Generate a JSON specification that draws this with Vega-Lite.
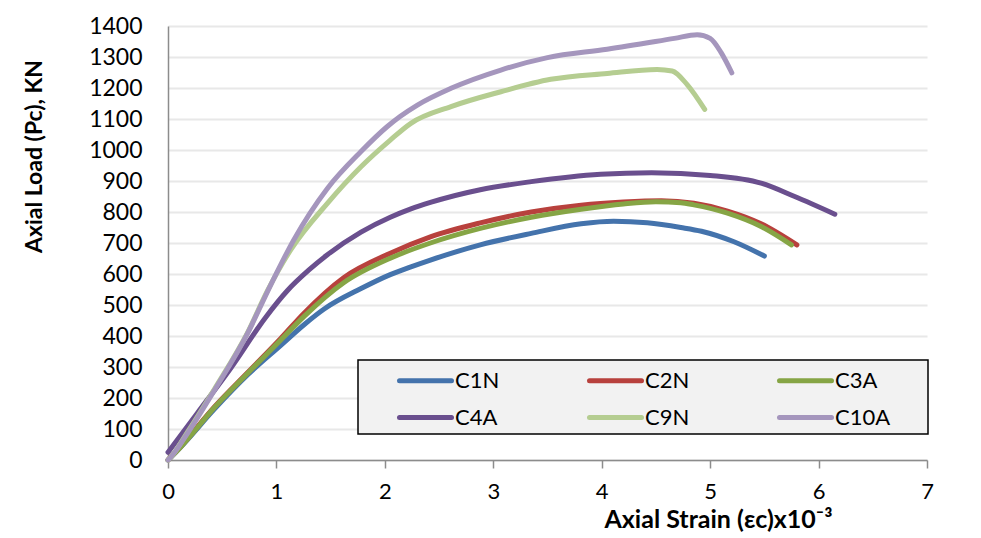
{
  "$schema": "https://vega.github.io/schema/vega-lite/v6.json",
  "width": 759,
  "height": 434,
  "autosize": {"type": "none"},
  "padding": {"left": 168, "top": 26, "right": 54, "bottom": 78},
  "background": "white",
  "config": {"view": {"stroke": null}, "font": "Lato"},
  "datasets": {
    "curves": [
      {"specimen": "C1N", "strain": 0, "load": 0},
      {"specimen": "C1N", "strain": 0.12, "load": 43},
      {"specimen": "C1N", "strain": 0.43, "load": 165},
      {"specimen": "C1N", "strain": 0.735, "load": 275},
      {"specimen": "C1N", "strain": 1.04, "load": 370},
      {"specimen": "C1N", "strain": 1.26, "load": 438},
      {"specimen": "C1N", "strain": 1.44, "load": 487},
      {"specimen": "C1N", "strain": 1.78, "load": 553},
      {"specimen": "C1N", "strain": 2.05, "load": 598},
      {"specimen": "C1N", "strain": 2.24, "load": 623},
      {"specimen": "C1N", "strain": 2.42, "load": 645},
      {"specimen": "C1N", "strain": 2.88, "load": 694},
      {"specimen": "C1N", "strain": 3.35, "load": 731},
      {"specimen": "C1N", "strain": 3.81, "load": 762},
      {"specimen": "C1N", "strain": 4.11, "load": 770},
      {"specimen": "C1N", "strain": 4.42, "load": 765},
      {"specimen": "C1N", "strain": 4.73, "load": 750},
      {"specimen": "C1N", "strain": 4.92, "load": 738},
      {"specimen": "C1N", "strain": 5.22, "load": 704},
      {"specimen": "C1N", "strain": 5.5, "load": 658},

      {"specimen": "C2N", "strain": 0, "load": 0},
      {"specimen": "C2N", "strain": 0.12, "load": 45},
      {"specimen": "C2N", "strain": 0.43, "load": 172},
      {"specimen": "C2N", "strain": 0.735, "load": 282},
      {"specimen": "C2N", "strain": 1.04, "load": 392},
      {"specimen": "C2N", "strain": 1.25, "load": 472},
      {"specimen": "C2N", "strain": 1.62, "load": 588},
      {"specimen": "C2N", "strain": 2.05, "load": 667},
      {"specimen": "C2N", "strain": 2.42, "load": 720},
      {"specimen": "C2N", "strain": 2.88, "load": 765},
      {"specimen": "C2N", "strain": 3.35, "load": 800},
      {"specimen": "C2N", "strain": 3.81, "load": 822},
      {"specimen": "C2N", "strain": 4.2, "load": 832},
      {"specimen": "C2N", "strain": 4.55, "load": 836},
      {"specimen": "C2N", "strain": 4.85, "load": 828},
      {"specimen": "C2N", "strain": 5.16, "load": 803},
      {"specimen": "C2N", "strain": 5.47, "load": 762},
      {"specimen": "C2N", "strain": 5.8, "load": 694},

      {"specimen": "C3A", "strain": 0, "load": 0},
      {"specimen": "C3A", "strain": 0.12, "load": 43},
      {"specimen": "C3A", "strain": 0.43, "load": 170},
      {"specimen": "C3A", "strain": 0.735, "load": 280},
      {"specimen": "C3A", "strain": 1.04, "load": 387},
      {"specimen": "C3A", "strain": 1.26, "load": 465},
      {"specimen": "C3A", "strain": 1.62, "load": 572},
      {"specimen": "C3A", "strain": 2.05, "load": 651},
      {"specimen": "C3A", "strain": 2.42, "load": 700},
      {"specimen": "C3A", "strain": 2.88, "load": 747},
      {"specimen": "C3A", "strain": 3.35, "load": 783},
      {"specimen": "C3A", "strain": 3.81, "load": 809},
      {"specimen": "C3A", "strain": 4.2, "load": 826},
      {"specimen": "C3A", "strain": 4.5, "load": 833},
      {"specimen": "C3A", "strain": 4.73, "load": 830},
      {"specimen": "C3A", "strain": 4.85, "load": 823},
      {"specimen": "C3A", "strain": 5.16, "load": 796},
      {"specimen": "C3A", "strain": 5.47, "load": 753},
      {"specimen": "C3A", "strain": 5.75, "load": 694},

      {"specimen": "C4A", "strain": 0, "load": 25},
      {"specimen": "C4A", "strain": 0.27, "load": 151},
      {"specimen": "C4A", "strain": 0.58, "load": 297},
      {"specimen": "C4A", "strain": 0.9, "load": 460},
      {"specimen": "C4A", "strain": 1.1, "load": 546},
      {"specimen": "C4A", "strain": 1.3, "load": 613},
      {"specimen": "C4A", "strain": 1.47, "load": 662},
      {"specimen": "C4A", "strain": 1.78, "load": 735},
      {"specimen": "C4A", "strain": 2.05, "load": 783},
      {"specimen": "C4A", "strain": 2.24, "load": 810},
      {"specimen": "C4A", "strain": 2.42, "load": 831},
      {"specimen": "C4A", "strain": 2.88, "load": 872},
      {"specimen": "C4A", "strain": 3.35, "load": 898},
      {"specimen": "C4A", "strain": 3.99, "load": 922},
      {"specimen": "C4A", "strain": 4.46, "load": 927},
      {"specimen": "C4A", "strain": 5.0, "load": 918},
      {"specimen": "C4A", "strain": 5.47, "load": 893},
      {"specimen": "C4A", "strain": 5.78, "load": 850},
      {"specimen": "C4A", "strain": 6.15, "load": 793},

      {"specimen": "C9N", "strain": 0, "load": 0},
      {"specimen": "C9N", "strain": 0.03, "load": 11},
      {"specimen": "C9N", "strain": 0.18, "load": 90},
      {"specimen": "C9N", "strain": 0.43, "load": 230},
      {"specimen": "C9N", "strain": 0.735, "load": 412},
      {"specimen": "C9N", "strain": 0.92, "load": 548},
      {"specimen": "C9N", "strain": 1.13, "load": 677},
      {"specimen": "C9N", "strain": 1.47, "load": 828},
      {"specimen": "C9N", "strain": 1.78, "load": 946},
      {"specimen": "C9N", "strain": 2.05, "load": 1032},
      {"specimen": "C9N", "strain": 2.24, "load": 1086},
      {"specimen": "C9N", "strain": 2.61, "load": 1140},
      {"specimen": "C9N", "strain": 3.07, "load": 1188},
      {"specimen": "C9N", "strain": 3.53, "load": 1228},
      {"specimen": "C9N", "strain": 4.05, "load": 1247},
      {"specimen": "C9N", "strain": 4.51, "load": 1260},
      {"specimen": "C9N", "strain": 4.65, "load": 1255},
      {"specimen": "C9N", "strain": 4.79, "load": 1210},
      {"specimen": "C9N", "strain": 4.95, "load": 1131},

      {"specimen": "C10A", "strain": 0, "load": 0},
      {"specimen": "C10A", "strain": 0.03, "load": 11},
      {"specimen": "C10A", "strain": 0.18, "load": 86},
      {"specimen": "C10A", "strain": 0.43, "load": 226},
      {"specimen": "C10A", "strain": 0.735, "load": 409},
      {"specimen": "C10A", "strain": 0.92, "load": 545},
      {"specimen": "C10A", "strain": 1.16, "load": 710},
      {"specimen": "C10A", "strain": 1.47, "load": 876},
      {"specimen": "C10A", "strain": 1.78, "load": 995},
      {"specimen": "C10A", "strain": 2.02, "load": 1075},
      {"specimen": "C10A", "strain": 2.14, "load": 1108},
      {"specimen": "C10A", "strain": 2.3, "load": 1145},
      {"specimen": "C10A", "strain": 2.61, "load": 1199},
      {"specimen": "C10A", "strain": 3.07, "load": 1258},
      {"specimen": "C10A", "strain": 3.5, "load": 1298},
      {"specimen": "C10A", "strain": 4.05, "load": 1325},
      {"specimen": "C10A", "strain": 4.67, "load": 1360},
      {"specimen": "C10A", "strain": 4.88, "load": 1372},
      {"specimen": "C10A", "strain": 5.0, "load": 1360},
      {"specimen": "C10A", "strain": 5.1, "load": 1315},
      {"specimen": "C10A", "strain": 5.2, "load": 1249}
    ]
  },
  "data": {"name": "curves"},
  "mark": {"type": "line", "interpolate": "monotone", "strokeWidth": 5, "strokeCap": "round", "strokeJoin": "round"},
  "encoding": {
    "x": {
      "field": "strain",
      "type": "quantitative",
      "scale": {"domain": [0, 7], "nice": false, "zero": true},
      "axis": {
        "values": [0, 0.5, 1, 1.5, 2, 2.5, 3, 3.5, 4, 4.5, 5, 5.5, 6, 6.5, 7],
        "format": "d",
        "labelExpr": "datum.value % 1 === 0 ? datum.label : ''",
        "labelOverlap": false,
        "labelFlush": false,
        "grid": false,
        "domainColor": "#8c8c8c",
        "domainWidth": 1.5,
        "tickColor": "#8c8c8c",
        "tickWidth": 1.5,
        "tickSize": 8,
        "labelFontSize": 22,
        "labelPadding": 13,
        "labelColor": "#000000",
        "title": "Axial Strain (εc)x10⁻³",
        "titleFontSize": 25,
        "titleFontWeight": "bold",
        "titleColor": "#000000",
        "titleAlign": "center",
        "titleBaseline": "top",
        "titleX": 550,
        "titleY": 47
      }
    },
    "y": {
      "field": "load",
      "type": "quantitative",
      "scale": {"domain": [0, 1400], "nice": false},
      "axis": {
        "values": [0, 100, 200, 300, 400, 500, 600, 700, 800, 900, 1000, 1100, 1200, 1300, 1400],
        "format": "d",
        "labelFlush": false,
        "labelOverlap": false,
        "grid": true,
        "gridColor": "#e8e8e8",
        "gridWidth": 2,
        "ticks": false,
        "domainColor": "#8c8c8c",
        "domainWidth": 1.5,
        "labelFontSize": 23,
        "labelPadding": 26,
        "labelColor": "#000000",
        "title": "Axial Load (Pc), KN",
        "titleFontSize": 23,
        "titleFontWeight": "bold",
        "titleColor": "#000000",
        "titleAngle": -90,
        "titleAlign": "center",
        "titleBaseline": "middle",
        "titleX": -134,
        "titleY": 130
      }
    },
    "color": {
      "field": "specimen",
      "type": "nominal",
      "scale": {
        "domain": ["C1N", "C2N", "C3A", "C4A", "C9N", "C10A"],
        "range": ["#4473ac", "#b8413d", "#86a545", "#6a4f8e", "#b5cd91", "#a596bd"]
      },
      "legend": {
        "orient": "none",
        "legendX": 190,
        "legendY": 334,
        "direction": "horizontal",
        "columns": 3,
        "title": null,
        "symbolType": "M-2,0H2",
        "symbolSize": 676,
        "symbolStrokeWidth": 5,
        "symbolOffset": 47,
        "labelOffset": 14,
        "labelFontSize": 22,
        "labelColor": "#000000",
        "labelExpr": "datum.label + '\u2800\u2800'",
        "columnPadding": 21,
        "rowPadding": 10,
        "padding": 5,
        "fillColor": "#f2f2f2",
        "strokeColor": "#000000",
        "encode": {
          "symbols": {"update": {"strokeCap": {"value": "round"}}},
          "legend": {"update": {"strokeWidth": {"value": 1.5}}}
        }
      }
    }
  }
}
